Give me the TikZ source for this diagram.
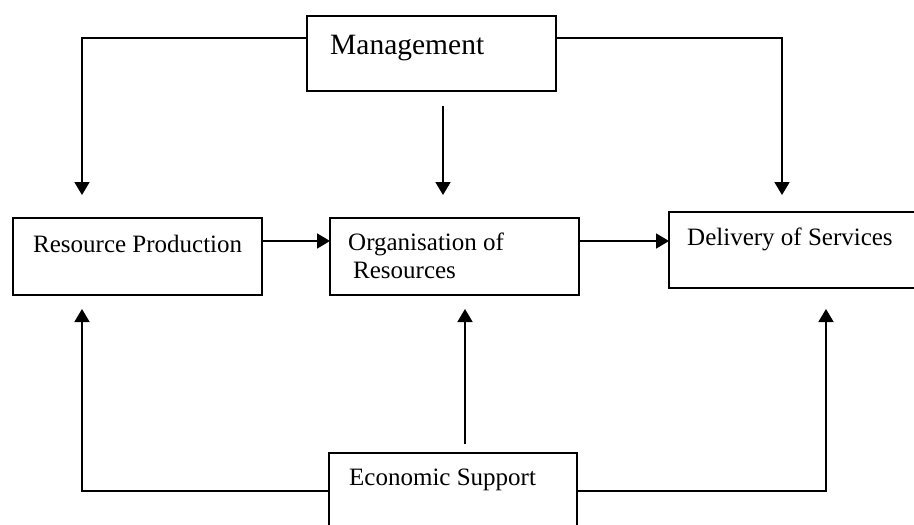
\documentclass[tikz,border=0pt]{standalone}
\usepackage{fontspec}
\setmainfont{Liberation Serif}
\usetikzlibrary{arrows.meta}

\begin{document}
\begin{tikzpicture}[x=1pt,y=-1pt,
  box/.style={draw, line width=1.6pt, rectangle, inner sep=0pt, outer sep=0pt},
  conn/.style={line width=1.8pt},
  arr/.style={conn, -{Triangle[length=13pt,width=15pt]}},
  lbl/.style={anchor=base west, inner sep=0pt, font=\fontsize{25}{30}\selectfont},
  biglbl/.style={anchor=base west, inner sep=0pt, font=\fontsize{29.5}{34}\selectfont}]

\useasboundingbox (0,0) rectangle (914,525);
\fill[white] (0,0) rectangle (914,525);
\clip (0,0) rectangle (914,525);

% boxes
\node[box, minimum width=249pt, minimum height=75pt] (mgmt) at (431.5,53.5) {};
\node[box, minimum width=249pt, minimum height=77pt] (rp)   at (137.5,256.5) {};
\node[box, minimum width=249pt, minimum height=77pt] (org)  at (454.5,256.5) {};
\node[box, minimum width=266pt, minimum height=76pt] (del)  at (802,250) {};
\node[box, minimum width=248pt, minimum height=87pt] (econ) at (453,496.5) {};

% labels
\node[biglbl] (tmgmt) at (330,54) {Management};
\node[lbl] (trp)   at (33,252)  {Resource Production};
\node[lbl] (torg1) at (348,250) {Organisation of};
\node[lbl] (torg2) at (353,278) {Resources};
\node[lbl] (tdel)  at (687,245) {Delivery of Services};
\node[lbl] (tecon) at (349,485) {Economic Support};

% routing points
\coordinate (tl) at (82,38);
\coordinate (tr) at (782,38);
\coordinate (rpin) at (82,195);
\coordinate (delin) at (782,195);
\coordinate (midtop) at (443,106);
\coordinate (orgin) at (443,195);
\coordinate (hrow) at (0,241);
\coordinate (bl) at (82,491);
\coordinate (br) at (826,491);
\coordinate (rpup) at (82,309);
\coordinate (delup) at (826,309);
\coordinate (midbot) at (465,444);
\coordinate (orgup) at (465,309);

% management feeds
\draw[arr] (tl -| mgmt.west) -- (tl) -- (rpin);
\draw[arr] (tr -| mgmt.east) -- (tr) -- (delin);
\draw[arr] (midtop) -- (orgin);

% main flow
\draw[arr] (hrow -| rp.east) -- (hrow -| org.west);
\draw[arr] (hrow -| org.east) -- (hrow -| del.west);

% economic support feeds
\draw[arr] (bl -| econ.west) -- (bl) -- (rpup);
\draw[arr] (br -| econ.east) -- (br) -- (delup);
\draw[arr] (midbot) -- (orgup);

\end{tikzpicture}
\end{document}
